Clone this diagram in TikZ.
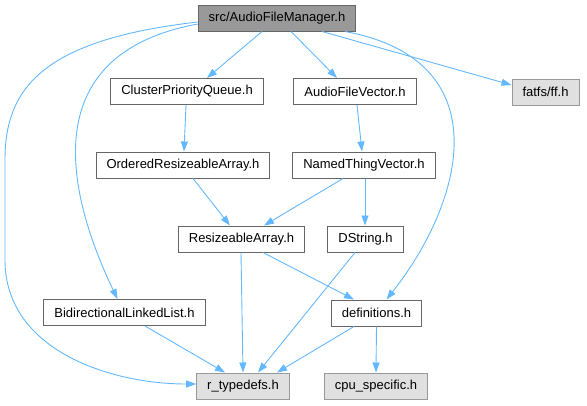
\documentclass[tikz,border=0pt]{standalone}
\usepackage{fontspec}
\setmainfont{Liberation Sans}
\usetikzlibrary{arrows.meta}
\definecolor{edgeblue}{HTML}{63B8FF}
\definecolor{rootgray}{HTML}{999999}
\definecolor{extgray}{HTML}{E0E0E0}
\definecolor{linegray}{HTML}{666666}
\begin{document}
\begin{tikzpicture}[
  x=1pt, y=-1pt,
  file/.style={rectangle, draw=linegray, fill=white, line width=1pt, inner xsep=10.5pt, minimum height=26pt, font=\fontsize{13}{15}\selectfont},
  rootfile/.style={file, fill=rootgray},
  extfile/.style={file, fill=extgray, draw=rootgray},
  arr/.style={-{Triangle[length=10pt,width=7pt]}, edgeblue, line width=0.9pt}
]
\useasboundingbox (0,0) rectangle (587,405);
\node[rootfile] (root) at (277,18) {src/AudioFileManager.h};
\node[file] (cpq) at (187,91.5) {ClusterPriorityQueue.h};
\node[file] (afv) at (355,91.5) {AudioFileVector.h};
\node[extfile] (ff) at (545.5,92) {fatfs/ff.h};
\node[file] (ora) at (183,165) {OrderedResizeableArray.h};
\node[file] (ntv) at (364,165) {NamedThingVector.h};
\node[file] (ra) at (241.5,239) {ResizeableArray.h};
\node[file] (ds) at (365.5,239) {DString.h};
\node[file] (bll) at (124.5,312.5) {BidirectionalLinkedList.h};
\node[file] (def) at (376.5,313) {definitions.h};
\node[extfile] (rt) at (243,386) {r\_typedefs.h};
\node[extfile] (cpu) at (376,386) {cpu\_specific.h};

\draw[arr] ([xshift=-15pt]root.south) -- ([xshift=20pt]cpq.north);
\draw[arr] ([xshift=14pt]root.south) -- ([xshift=-18pt]afv.north);
\draw[arr] ([xshift=45pt]root.south) -- ([yshift=7pt]ff.west);
\draw[arr] ([xshift=68pt]root.south) .. controls (500,60) and (465,200) .. ([xshift=10pt]def.north);
\draw[arr] ([yshift=-6pt]root.west) .. controls (30,55) and (70,200) .. ([xshift=-7pt]bll.north);
\draw[arr] ([yshift=-4pt]root.west) .. controls (40,40) and (5,90) .. (5,160) -- (5,260)
  .. controls (5,350) and (110,384) .. ([yshift=2pt]rt.west);
\draw[arr] ([xshift=-1pt]cpq.south) -- ([xshift=1pt]ora.north);
\draw[arr] ([xshift=2pt]afv.south) -- ([xshift=-2pt]ntv.north);
\draw[arr] ([xshift=10pt]ora.south) -- ([xshift=-11.5pt]ra.north);
\draw[arr] ([xshift=-21pt]ntv.south) -- ([xshift=22.5pt]ra.north);
\draw[arr] ([xshift=1pt]ntv.south) -- ([xshift=-0.5pt]ds.north);
\draw[arr] ([xshift=-0.5pt]ra.south) -- (rt.north);
\draw[arr] ([xshift=21.5pt]ra.south) -- ([xshift=-22.5pt]def.north);
\draw[arr] ([xshift=-10.5pt]ds.south) -- ([xshift=15pt]rt.north);
\draw[arr] ([xshift=-22.5pt]def.south) -- ([xshift=34pt]rt.north);
\draw[arr] (def.south) -- (cpu.north);
\draw[arr] ([xshift=20.5pt]bll.south) -- ([xshift=-18pt]rt.north);
\end{tikzpicture}
\end{document}
